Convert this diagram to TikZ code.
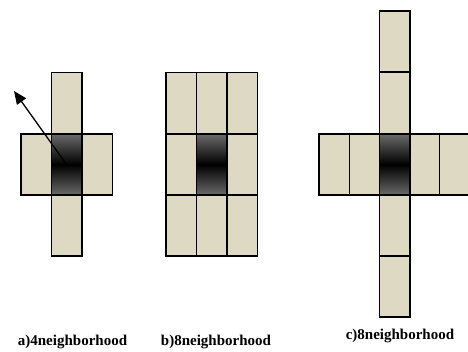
\documentclass[tikz,border=0pt]{standalone}
\usepackage{fontspec}
\setmainfont{Liberation Serif}
\usetikzlibrary{arrows.meta}
\definecolor{tan}{HTML}{DDD9C3}
\definecolor{cgray}{HTML}{6A6A6A}
\tikzset{
  cell/.style={draw=black, line width=1.5pt, fill=tan, minimum width=30.5pt, minimum height=61pt, inner sep=0pt},
  ctr/.style={cell, top color=cgray, bottom color=cgray, middle color=black},
  lbl/.style={font=\bfseries\fontsize{15}{17}\selectfont, inner sep=0pt},
  arr/.style={line width=1.3pt, -{Triangle[length=13pt,width=11pt]}}
}
\begin{document}
\begin{tikzpicture}[x=1pt,y=-1pt]
\useasboundingbox (0,0) rectangle (468,351);
% a) 4-neighborhood
\node[cell] (a1) at (66.5,103) {};
\node[cell] (a3) at (66.5,225.5) {};
\node[cell] (aL) at (36,164.5) {};
\node[cell] (aR) at (97,164.5) {};
\node[ctr] (aC) at (66.5,164.5) {};
\coordinate (atip) at (14,91);
\draw[arr] (aC.center) -- (atip);
\node[lbl] (la) at (72.5,342) {a)4neighborhood};
% b) 8-neighborhood
\foreach \c [count=\i] in {181.3,211.8,242.2}{
  \node[cell] (bt\i) at (\c,103) {};
  \node[cell] (bb\i) at (\c,225.5) {};
}
\node[cell] (bL) at (181.3,164.5) {};
\node[cell] (bR) at (242.2,164.5) {};
\node[ctr] (bC) at (211.8,164.5) {};
\node[lbl] (lb) at (216,342) {b)8neighborhood};
% c) 8-neighborhood (cross)
\node[cell] (c1) at (394.7,41.7) {};
\node[cell] (c2) at (394.7,103) {};
\node[cell] (c4) at (394.7,225.5) {};
\node[cell] (c5) at (394.7,286.7) {};
\node[cell] (cL2) at (334.3,164.5) {};
\node[cell] (cL1) at (364.5,164.5) {};
\node[cell] (cR1) at (424.9,164.5) {};
\node[cell] (cR2) at (454.5,164.5) {};
\node[ctr] (cC) at (394.7,164.5) {};
\node[lbl] (lc) at (400,335.5) {c)8neighborhood};
\end{tikzpicture}
\end{document}
